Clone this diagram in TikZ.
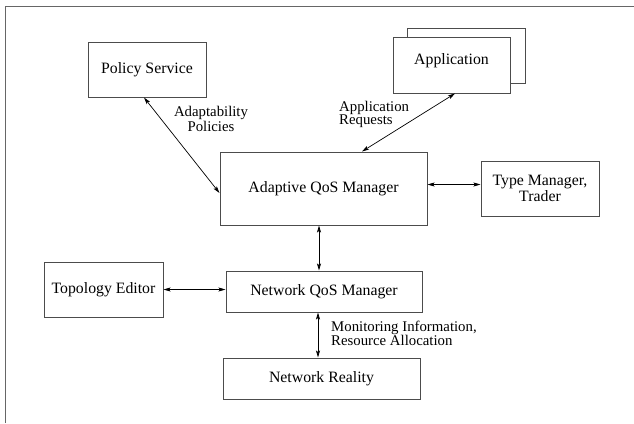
\documentclass[tikz,border=0pt]{standalone}
\usepackage{fontspec}
\setmainfont{Liberation Serif}
\usetikzlibrary{arrows.meta,calc}
\begin{document}
\begin{tikzpicture}[x=1pt,y=-1pt,
  box/.style={draw=black!70, line width=1pt, fill=white, inner sep=0pt,
    font=\fontsize{15.8}{11}\selectfont, align=center},
  lbl/.style={inner sep=0pt, font=\fontsize{14.8}{12.5}\selectfont},
  conn/.style={line width=0.7pt, {Stealth[length=7pt,width=4pt,inset=1.5pt]}-{Stealth[length=7pt,width=4pt,inset=1.5pt]}}]
\useasboundingbox (0,0) rectangle (634,423);
\draw[black!60, line width=1.5pt] (5.5,423) -- (5.5,6.5) -- (634,6.5);
% boxes
\node[box, minimum width=118, minimum height=55] (pol) at (147,69.5) {Policy Service};
\node[box, minimum width=118, minimum height=55] (appback) at (466,55.5) {};
\node[box, minimum width=117, minimum height=56, text depth=12] (app) at (451.5,65) {Application};
\node[box, minimum width=207, minimum height=73] (aqm) at (323.5,188.5) {Adaptive QoS Manager};
\node[box, minimum width=118, minimum height=55] (tm) at (540,188.5) {Type Manager,\\Trader};
\node[box, minimum width=119, minimum height=55] (te) at (103.5,289.5) {Topology Editor};
\node[box, minimum width=196, minimum height=41] (nqm) at (324,291.5) {Network QoS Manager};
\node[box, minimum width=197, minimum height=41] (nr) at (321.5,378.5) {Network Reality};
% connectors
\draw[conn] ($(pol.south)+(-3,0)$) -- ($(aqm.west)+(0,4.5)$);
\draw[conn] ($(app.south)+(3.5,0)$) -- ($(aqm.north)+(38.5,0)$);
\draw[conn] ($(aqm.east)+(0,-4)$) -- ($(tm.west)+(0,-4)$);
\draw[conn] ($(aqm.south)+(-4.5,0)$) -- ($(nqm.north)+(-5,0)$);
\draw[conn] (te.east) -- (te.east -| nqm.west);
\draw[conn] ($(nqm.south)+(-6,0)$) -- ($(nr.north)+(-3.5,0)$);
% labels
\node[lbl, align=center] (lpol) at (211,119) {Adaptability\\Policies};
\node[lbl, align=left, anchor=west] (lapp) at (339,114.5) {Application\\Requests};
\node[lbl, align=left, anchor=west] (lmon) at (331,333.5) {Monitoring Information,\\Resource Allocation};
\end{tikzpicture}
\end{document}
